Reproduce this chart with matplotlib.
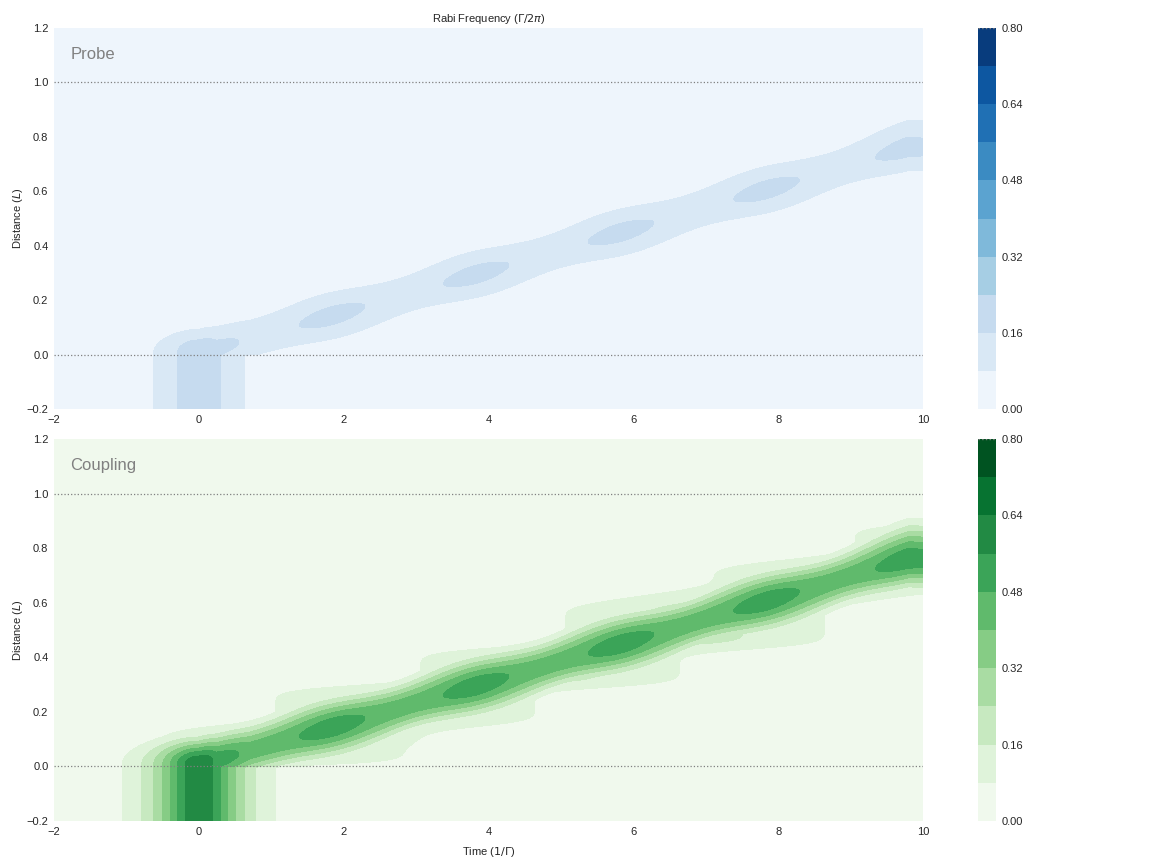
import numpy as np
import matplotlib
matplotlib.use("Agg")
import matplotlib.pyplot as plt

plt.rcParams['font.family'] = ['Liberation Sans', 'DejaVu Sans']

# peak Rabi frequency of the two input pulses (Gamma/2pi)
probe_peak = 0.21
coupling_peak = 0.63
input_width = 0.385      # sech width of the input pulses (1/Gamma)

# bright cap just inside the medium
cap_peak = 0.53
cap_t = 0.1
cap_width = 1.0

# ridge of the pulse inside the medium (time, distance)
ridge_t = [0.0, 1.84, 3.83, 5.83, 7.84, 9.80]
ridge_y = [0.004, 0.143, 0.295, 0.449, 0.606, 0.760]

# bright lobes along the ridge (coupling scale)
lobe_t = [1.84, 3.83, 5.83, 7.84, 9.80]
lobe_peak = [0.53, 0.53, 0.53, 0.53, 0.53]
ridge_level = 0.445
lobe_len = 0.48
ridge_half = 0.09

# times where the upper / lower edges of the band step up
step_up_t = [-0.9, 1.1, 3.1, 5.1, 7.1, 9.1]
step_lo_t = [0.6, 2.6, 4.6, 6.6, 8.6, 10.6]
step_swing = 0.25

# weak stair-like tail: pulse delay vs distance
tail_y = [0.00, 0.05, 0.14, 0.16, 0.285, 0.30, 0.42, 0.445, 0.585, 0.66, 0.73, 0.78, 0.88, 0.90]
tail_delay = [1.15, 1.00, 1.45, 2.85, 2.85, 4.85, 4.85, 6.85, 6.85, 8.90, 8.90, 10.85, 10.85, 12.85]
tail_level = 0.18
tail_width = 1.4

levels = np.linspace(0, 0.8, 11)
cbar_ticks = [0.0, 0.16, 0.32, 0.48, 0.64, 0.80]

t = np.linspace(-2, 10, 721)
z = np.linspace(-0.2, 1.2, 561)
T, Z = np.meshgrid(t, z)


def sech(x):
    return 1.0 / np.cosh(x)


def blur(a, s_rows, s_cols):
    # separable gaussian smoothing, sigmas in grid cells
    for axis, s in ((0, s_rows), (1, s_cols)):
        if s <= 0:
            continue
        n = int(3 * s)
        k = np.exp(-0.5 * (np.arange(-n, n + 1) / s) ** 2)
        k /= k.sum()
        pad = [(0, 0), (0, 0)]
        pad[axis] = (n, n)
        ap = np.pad(a, pad, mode='edge')
        a = np.apply_along_axis(lambda v: np.convolve(v, k, mode='valid'), axis, ap)
    return a


def phase(tt, steps):
    # 0 right after a step, growing to 1 just before the next one
    p = np.zeros_like(tt)
    for a, b in zip(steps[:-1], steps[1:]):
        m = (tt >= a) & (tt < b)
        p[m] = (tt[m] - a) / (b - a)
    return p


# input pulse before the medium
inp = coupling_peak * sech(T / input_width)

# ridge inside the medium
yc = np.interp(t, ridge_t, ridge_y)
entry = np.maximum(coupling_peak * sech(t / input_width),
                   np.where(t > 0, cap_peak * sech((t - cap_t) / cap_width), 0))
on = 1.0 / (1.0 + np.exp(-(t - 0.3) / 0.05))
amp = np.full_like(t, ridge_level)
for bt, bp in zip(lobe_t, lobe_peak):
    amp = amp + (bp - ridge_level) * np.exp(-((t - bt) / lobe_len) ** 2)
amp = np.maximum(entry, amp * on)

h_up = ridge_half * (1 + step_swing * (1 - 2 * phase(t, step_up_t)))
h_lo = ridge_half * (1 - step_swing * (1 - 2 * phase(t, step_lo_t)))
h_up = blur(h_up[None, :], 0, 18)[0]
h_lo = blur(h_lo[None, :], 0, 18)[0]
ramp = np.clip(t / 1.5, 0, 1)
h_up = ridge_half + (h_up - ridge_half) * ramp
h_lo = ridge_half + (h_lo - ridge_half) * ramp

dz = Z - yc[None, :]
hh = np.where(dz > 0, h_up[None, :], h_lo[None, :])
core = amp[None, :] * np.exp(-(np.abs(dz) / hh) ** 2.2)

tc = np.interp(z, tail_y, tail_delay)
tail = tail_level * np.exp(-0.5 * ((T - tc[:, None]) / tail_width) ** 2)
tail = tail * np.clip(Z / 0.015, 0, 1)
tail = blur(tail, 7, 9)

field = np.where(Z < 0, inp, np.maximum(core, tail))
probe = field * probe_peak / coupling_peak
coupling = field

fig = plt.figure(figsize=(11.52, 8.64), dpi=100)
ax1 = fig.add_axes([0.0469, 0.5266, 0.7543, 0.441])
ax2 = fig.add_axes([0.0469, 0.0498, 0.7543, 0.442])
cax1 = fig.add_axes([0.849, 0.5266, 0.0156, 0.441])
cax2 = fig.add_axes([0.849, 0.0498, 0.0156, 0.442])

for ax, cax, data, cmap, name in [(ax1, cax1, probe, 'Blues', 'Probe'),
                                  (ax2, cax2, coupling, 'Greens', 'Coupling')]:
    cs = ax.contourf(t, z, data, levels=levels, cmap=cmap)
    ax.axhline(0.0, color='gray', ls=':', lw=0.9)
    ax.axhline(1.0, color='gray', ls=':', lw=0.9)
    ax.set_xlim(-2, 10)
    ax.set_ylim(-0.2, 1.2)
    ax.set_xticks([-2, 0, 2, 4, 6, 8, 10])
    ax.set_yticks([-0.2, 0.0, 0.2, 0.4, 0.6, 0.8, 1.0, 1.2])
    ax.tick_params(labelsize=8, length=0, pad=4, labelcolor='0.15')
    for s in ax.spines.values():
        s.set_visible(False)
    ax.set_ylabel('Distance ($L$)', fontsize=8, labelpad=1, color='0.15')
    ax.text(0.019, 0.93, name, transform=ax.transAxes, fontsize=12,
            color='gray', ha='left', va='center')
    cb = fig.colorbar(cs, cax=cax, ticks=cbar_ticks)
    cb.ax.set_yticklabels(['%.2f' % v for v in cbar_ticks])
    cb.ax.tick_params(labelsize=8, length=0, pad=4, labelcolor='0.15')
    cb.outline.set_visible(False)
    cb.ax.axhline(0.8, color='gray', ls=':', lw=1.0)

ax1.set_title(r'Rabi Frequency ($\Gamma/2\pi$)', fontsize=8, pad=4, color='0.15')
ax2.set_xlabel(r'Time ($1/\Gamma$)', fontsize=8, labelpad=6, color='0.15')

fig.savefig('out.png', dpi=100)
